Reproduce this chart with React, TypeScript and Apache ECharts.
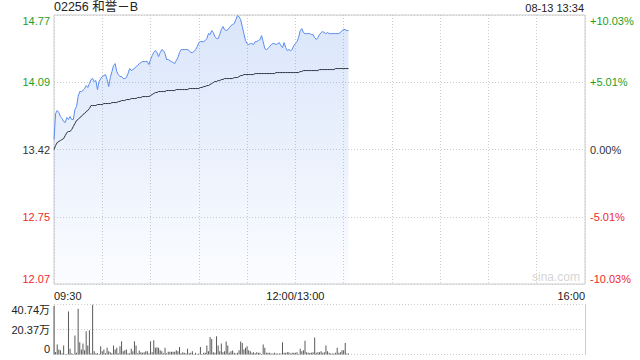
import React, { useEffect, useRef } from 'react';
import * as echarts from 'echarts';

const titleText = '02256 和誉－B';
const timeText = '08-13 13:34';
const prevClose = 13.42;
const priceMin = 12.074;
const priceMax = 14.766;
const priceTickValues = [12.074, 12.747, 13.42, 14.093, 14.766];
const priceTickLabels = ['12.07', '12.75', '13.42', '14.09', '14.77'];
const pctMin = -10.03;
const pctMax = 10.03;
const pctTickValues = [-10.03, -5.015, 0, 5.015, 10.03];
const pctTickLabels = ['-10.03%', '-5.01%', '0.00%', '+5.01%', '+10.03%'];
const volMax = 40.74;
const volTickValues = [0, 20.37, 40.74];
const volTickLabels = ['0', '20.37万', '40.74万'];
const totalMinutes = 330;
const timeTickLabels: Record<number, string> = { 0: '09:30', 150: '12:00/13:00', 330: '16:00' };

const prices = [
  13.52, 13.78, 13.81, 13.79, 13.75, 13.73, 13.70, 13.69, 13.74, 13.72,
  13.75, 13.72, 13.72, 13.82, 13.85, 13.95, 14.00, 14.00, 14.01, 14.03,
  14.06, 14.04, 14.08, 14.12, 14.13, 14.10, 14.11, 14.02, 14.10, 14.13,
  14.15, 14.16, 14.17, 14.12, 14.05, 14.14, 14.20, 14.26, 14.28, 14.20,
  14.17, 14.15, 14.15, 14.13, 14.13, 14.14, 14.18, 14.23, 14.21, 14.22,
  14.23, 14.25, 14.26, 14.28, 14.29, 14.30, 14.30, 14.30, 14.30, 14.27,
  14.32, 14.36, 14.39, 14.41, 14.39, 14.35, 14.39, 14.42, 14.41, 14.38,
  14.32, 14.32, 14.31, 14.30, 14.29, 14.28, 14.31, 14.34, 14.39, 14.42,
  14.42, 14.42, 14.42, 14.42, 14.41, 14.39, 14.39, 14.40, 14.42, 14.45,
  14.49, 14.50, 14.50, 14.50, 14.51, 14.53, 14.58, 14.57, 14.61, 14.59,
  14.55, 14.53, 14.53, 14.57, 14.62, 14.65, 14.62, 14.61, 14.62, 14.64,
  14.66, 14.67, 14.68, 14.72, 14.76, 14.75, 14.72, 14.65, 14.58, 14.51,
  14.48, 14.47, 14.48, 14.48, 14.47, 14.50, 14.50, 14.51, 14.52, 14.56,
  14.50, 14.43, 14.42, 14.43, 14.45, 14.47, 14.48, 14.48, 14.47, 14.48,
  14.49, 14.46, 14.44, 14.49, 14.44, 14.41, 14.42, 14.41, 14.42, 14.46,
  14.48, 14.50, 14.54, 14.61, 14.63, 14.59, 14.58, 14.58, 14.58, 14.58,
  14.57, 14.57, 14.54, 14.52, 14.54, 14.57, 14.59, 14.60, 14.59, 14.58,
  14.59, 14.58, 14.58, 14.58, 14.58, 14.58, 14.58, 14.58, 14.59, 14.61,
  14.62, 14.62, 14.61, 14.61,
];

const avgPrices = [
  13.42, 13.46, 13.49, 13.50, 13.51, 13.52, 13.53, 13.56, 13.59, 13.60,
  13.60, 13.62, 13.65, 13.68, 13.71, 13.72, 13.74, 13.75, 13.77, 13.78,
  13.80, 13.81, 13.83, 13.86, 13.86, 13.86, 13.86, 13.87, 13.87, 13.87,
  13.87, 13.88, 13.88, 13.88, 13.88, 13.88, 13.89, 13.89, 13.89, 13.89,
  13.90, 13.90, 13.91, 13.91, 13.91, 13.92, 13.92, 13.92, 13.93, 13.93,
  13.93, 13.93, 13.94, 13.94, 13.94, 13.95, 13.95, 13.95, 13.95, 13.95,
  13.96, 13.97, 13.98, 13.99, 13.99, 14.00, 14.00, 14.00, 14.00, 14.00,
  14.01, 14.01, 14.01, 14.01, 14.01, 14.01, 14.02, 14.02, 14.02, 14.02,
  14.02, 14.02, 14.02, 14.02, 14.03, 14.03, 14.03, 14.03, 14.03, 14.03,
  14.03, 14.04, 14.04, 14.05, 14.05, 14.06, 14.06, 14.07, 14.08, 14.09,
  14.10, 14.10, 14.11, 14.11, 14.12, 14.12, 14.13, 14.13, 14.13, 14.13,
  14.13, 14.13, 14.14, 14.14, 14.14, 14.15, 14.16, 14.16, 14.17, 14.17,
  14.17, 14.17, 14.17, 14.17, 14.17, 14.18, 14.18, 14.18, 14.18, 14.18,
  14.18, 14.18, 14.18, 14.18, 14.18, 14.18, 14.18, 14.18, 14.19, 14.19,
  14.19, 14.19, 14.19, 14.19, 14.19, 14.19, 14.19, 14.19, 14.19, 14.19,
  14.19, 14.19, 14.19, 14.20, 14.20, 14.21, 14.21, 14.21, 14.21, 14.21,
  14.21, 14.21, 14.21, 14.21, 14.21, 14.22, 14.22, 14.22, 14.22, 14.22,
  14.22, 14.22, 14.22, 14.22, 14.22, 14.23, 14.23, 14.23, 14.23, 14.23,
  14.23, 14.23, 14.23, 14.23,
];

// volume in 万 shares
const volumes = [
  39.5, 2.0, 8.1, 4.0, 3.5, 1.0, 7.3, 0.5, 0.5, 35.1,
  4.6, 1.0, 0.5, 15.4, 1.5, 37.2, 10.0, 4.0, 8.9, 3.5,
  18.9, 7.3, 19.7, 1.0, 40.5, 2.7, 1.0, 1.0, 0.5, 6.7,
  2.7, 4.0, 1.0, 5.4, 2.7, 1.9, 1.0, 7.3, 4.0, 5.4,
  1.0, 6.7, 10.8, 2.7, 3.5, 4.0, 1.0, 1.0, 4.6, 2.7,
  10.8, 7.3, 1.0, 3.2, 1.9, 1.5, 1.9, 2.7, 2.7, 1.0,
  10.8, 1.9, 11.6, 5.4, 5.9, 5.4, 3.5, 2.7, 1.0, 5.4,
  1.0, 2.2, 2.2, 2.2, 2.2, 2.2, 3.5, 2.7, 6.2, 1.0,
  1.9, 1.4, 0.8, 4.6, 1.0, 1.4, 2.7, 0.5, 1.4, 0.5,
  0.8, 6.2, 0.5, 1.4, 1.4, 7.3, 2.7, 14.3, 12.7, 1.9,
  1.4, 14.8, 7.3, 2.7, 8.9, 1.9, 2.7, 10.5, 7.3, 1.4,
  2.7, 3.2, 1.4, 0.8, 1.4, 3.5, 10.5, 9.4, 4.0, 5.4,
  6.7, 3.5, 2.7, 1.4, 1.9, 1.0, 1.9, 1.4, 1.4, 0.5,
  8.1, 5.4, 1.4, 1.4, 1.4, 0.8, 0.8, 1.4, 0.8, 0.8,
  0.8, 0.8, 10.0, 1.4, 1.4, 1.9, 1.9, 0.8, 1.4, 1.4,
  1.4, 1.9, 0.5, 4.6, 2.7, 3.5, 11.3, 1.9, 1.4, 1.4,
  1.4, 1.9, 13.8, 1.4, 1.9, 1.9, 2.7, 1.4, 1.9, 7.3,
  2.7, 1.4, 0.8, 0.8, 0.8, 1.4, 5.4, 1.4, 1.9, 3.5,
  3.5, 9.4, 0.8, 0.8,
];

const FONT = 'Arial, "Liberation Sans", "Noto Sans CJK SC", sans-serif';
const UP = '#1f9e1f';
const DOWN = '#ee2a2a';
const FLAT = '#333333';
const BORDER = '#cccccc';

function lookup(values: number[], labels: string[], v: number): string {
  for (let i = 0; i < values.length; i++) {
    if (Math.abs(values[i] - v) < 1e-6) return labels[i];
  }
  return '';
}

export default function App() {
  const ref = useRef<HTMLDivElement>(null);
  useEffect(() => {
    if (!ref.current) return;
    const chart = echarts.init(ref.current, undefined, { renderer: 'svg' });
    const dotted = { show: true, lineStyle: { color: BORDER, type: [1, 2] as any, width: 1 } };
    const option: any = {
      animation: false,
      backgroundColor: '#ffffff',
      textStyle: { fontFamily: FONT },
      title: [
        { text: titleText, left: 54, top: 1, padding: 0, textStyle: { fontSize: 12.5, fontWeight: 'normal', color: '#222', fontFamily: FONT } },
        { text: timeText, right: 56, top: 2, padding: 0, textStyle: { fontSize: 11, fontWeight: 'normal', color: '#222', fontFamily: FONT } },
      ],
      graphic: [
        { type: 'text', left: 532, top: 271, style: { text: 'sina.com', fill: '#d6d6d6', font: '12px ' + FONT } },
      ],
      grid: [
        { left: 54, right: 55, top: 15, height: 269, show: true, borderColor: BORDER, borderWidth: 1, backgroundColor: 'transparent' },
        { left: 54, right: 55, top: 304.5, height: 50, show: false },
      ],
      xAxis: [
        {
          type: 'value', gridIndex: 0, min: 0, max: totalMinutes, interval: 30,
          axisLine: { show: false }, axisTick: { show: false },
          splitLine: dotted,
          axisLabel: {
            show: true, fontSize: 11, color: '#222', margin: 6, fontFamily: FONT,
            showMinLabel: true, showMaxLabel: true,
            alignMinLabel: 'left', alignMaxLabel: 'right',
            formatter: (v: number) => timeTickLabels[v] ?? '',
          },
        },
        {
          type: 'value', gridIndex: 1, min: 0, max: totalMinutes, interval: 30,
          axisLine: { show: false }, axisTick: { show: false }, splitLine: { show: false },
          axisLabel: { show: false },
        },
      ],
      yAxis: [
        {
          type: 'value', gridIndex: 0, min: priceMin, max: priceMax, position: 'left',
          axisLine: { show: false },
          axisTick: { show: false, customValues: priceTickValues },
          splitLine: dotted,
          axisLabel: {
            customValues: priceTickValues,
            fontSize: 11, margin: 4, fontFamily: FONT,
            verticalAlignMinLabel: 'bottom', verticalAlignMaxLabel: 'top',
            formatter: (v: number) => lookup(priceTickValues, priceTickLabels, v),
            color: (v: any) => {
              const n = Number(v);
              return n > prevClose + 1e-6 ? UP : n < prevClose - 1e-6 ? DOWN : FLAT;
            },
          },
        },
        {
          type: 'value', gridIndex: 0, min: pctMin, max: pctMax, position: 'right',
          axisLine: { show: false },
          axisTick: { show: false, customValues: pctTickValues },
          splitLine: { show: false },
          axisLabel: {
            customValues: pctTickValues,
            fontSize: 11, margin: 5, fontFamily: FONT,
            verticalAlignMinLabel: 'bottom', verticalAlignMaxLabel: 'top',
            formatter: (v: number) => lookup(pctTickValues, pctTickLabels, v),
            color: (v: any) => {
              const n = Number(v);
              return n > 1e-6 ? UP : n < -1e-6 ? DOWN : FLAT;
            },
          },
        },
        {
          type: 'value', gridIndex: 1, min: 0, max: volMax, position: 'left',
          axisLine: { show: true, lineStyle: { color: BORDER } },
          axisTick: { show: false, customValues: volTickValues },
          splitLine: dotted,
          axisLabel: {
            customValues: volTickValues,
            fontSize: 11, margin: 4, color: '#222', fontFamily: FONT,
            verticalAlignMinLabel: 'bottom', verticalAlignMaxLabel: 'top',
            formatter: (v: number) => lookup(volTickValues, volTickLabels, v),
          },
        },
        {
          type: 'value', gridIndex: 1, min: 0, max: volMax, position: 'right',
          axisLine: { show: true, lineStyle: { color: BORDER } },
          axisTick: { show: false }, splitLine: { show: false }, axisLabel: { show: false },
        },
      ],
      series: [
        {
          type: 'line', xAxisIndex: 0, yAxisIndex: 0, symbol: 'none',
          data: prices.map((p, i) => [i, p]),
          lineStyle: { color: '#5a8cf0', width: 1 },
          areaStyle: {
            origin: 'start',
            color: new echarts.graphic.LinearGradient(0, 0, 0, 1, [
              { offset: 0, color: 'rgba(80,135,235,0.30)' },
              { offset: 1, color: 'rgba(80,135,235,0.03)' },
            ]),
          },
          z: 3,
        },
        {
          type: 'line', xAxisIndex: 0, yAxisIndex: 0, symbol: 'none',
          data: avgPrices.map((p, i) => [i, p]),
          lineStyle: { color: '#2b3340', width: 1 },
          z: 4,
        },
        {
          type: 'bar', xAxisIndex: 1, yAxisIndex: 2,
          data: volumes.map((v, i) => [i, v]),
          barWidth: 1,
          itemStyle: { color: '#5a5a5a' },
        },
      ],
    };
    chart.setOption(option);
    return () => chart.dispose();
  }, []);
  return <div ref={ref} style={{ position: 'fixed', left: 0, top: 0, width: 640, height: 360 }} />;
}
